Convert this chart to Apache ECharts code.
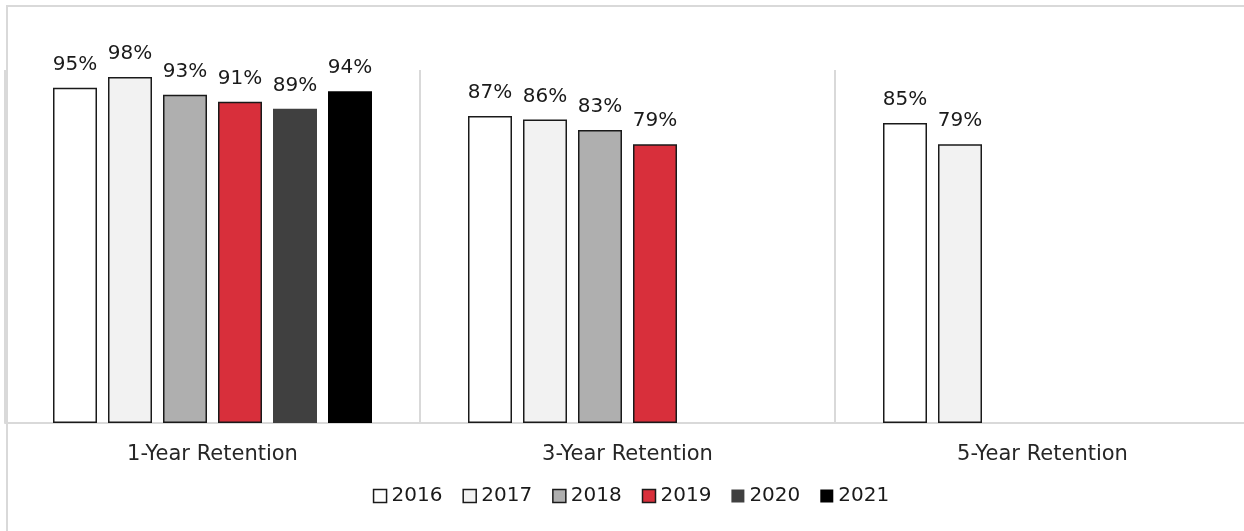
<!DOCTYPE html>
<html><head><meta charset="utf-8">
<script src="https://cdn.jsdelivr.net/npm/echarts@6/dist/echarts.min.js"></script>
<style>html,body{margin:0;padding:0;background:#fff;overflow:hidden;width:1244px;height:531px}#c{width:1262px;height:540px}</style>
</head><body><div id="c"></div>
<script>
const categories = ['1-Year Retention', '3-Year Retention', '5-Year Retention'];
const years = ['2016', '2017', '2018', '2019', '2020', '2021'];
const v2016 = [95, 87, 85];
const v2017 = [98, 86, 79];
const v2018 = [93, 83, null];
const v2019 = [91, 79, null];
const v2020 = [89, null, null];
const v2021 = [94, null, null];
const seriesValues = [v2016, v2017, v2018, v2019, v2020, v2021];
const fills = ['#ffffff', '#f2f2f2', '#afafaf', '#d82f3b', '#404040', '#000000'];
const borders = ['#1a1a1a', '#1a1a1a', '#1a1a1a', '#1a1a1a', null, null];
const FONT = 'DejaVu Sans';

const chart = echarts.init(document.getElementById('c'), null, {renderer: 'canvas'});
chart.setOption({
  animation: false,
  textStyle: {fontFamily: FONT},
  graphic: [
    {type: 'line', shape: {x1: 6, y1: 6, x2: 1262, y2: 6}, style: {stroke: '#d9d9d9', lineWidth: 2}, z: -1},
    {type: 'line', shape: {x1: 7, y1: 6, x2: 7, y2: 540}, style: {stroke: '#d9d9d9', lineWidth: 2}, z: -1}
  ],
  legend: {
    top: 481, left: 'center', itemWidth: 13, itemHeight: 13, itemGap: 20, icon: 'rect',
    textStyle: {fontSize: 20, color: '#1a1a1a', fontFamily: FONT},
    data: years.map((y, i) => ({name: y, itemStyle: {color: fills[i], borderColor: borders[i] || fills[i], borderWidth: borders[i] ? 1.5 : 0}}))
  },
  grid: {left: 5, right: 12, top: 70, height: 353, containLabel: false},
  xAxis: {
    type: 'category', data: categories,
    axisLine: {lineStyle: {color: '#d9d9d9', width: 2}},
    axisTick: {show: false},
    axisLabel: {fontSize: 21, color: '#262626', margin: 21, fontFamily: FONT},
    splitLine: {show: true, lineStyle: {color: '#d9d9d9', width: 2}}
  },
  yAxis: {type: 'value', min: 0, max: 100, show: false, splitLine: {show: false}},
  series: years.map((y, i) => ({
    name: y, type: 'bar', data: seriesValues[i], barWidth: 44, barGap: '25%',
    itemStyle: {color: fills[i], borderColor: borders[i] || fills[i], borderWidth: borders[i] ? 1.5 : 0},
    label: {show: true, position: 'top', distance: 13, formatter: '{c}%', fontSize: 20, color: '#1a1a1a', fontFamily: FONT}
  }))
});
</script></body></html>
